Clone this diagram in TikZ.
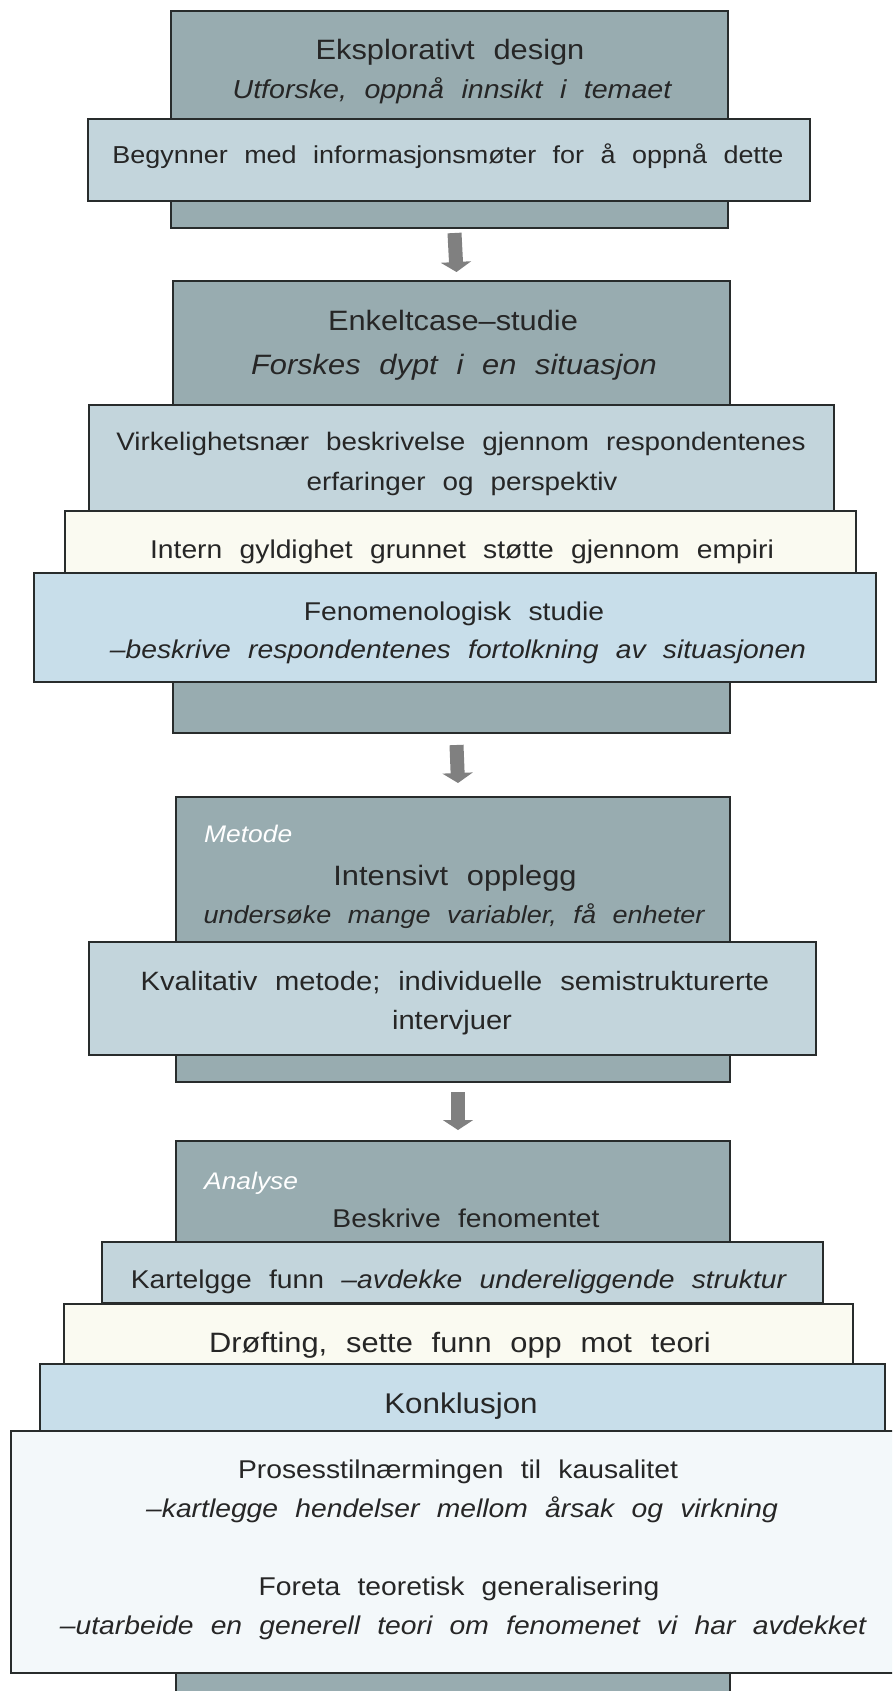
\documentclass[tikz,border=0pt]{standalone}
\usepackage{fontspec}
\setmainfont{Liberation Sans}[WordSpace=2.2,FakeStretch=1.1]
\usetikzlibrary{arrows.meta}

\definecolor{boxdark}{RGB}{152,172,176}
\definecolor{boxlight}{RGB}{195,213,220}
\definecolor{boxcream}{RGB}{250,250,241}
\definecolor{boxblue}{RGB}{200,222,234}
\definecolor{boxpale}{RGB}{243,248,250}
\definecolor{boxline}{RGB}{40,44,44}
\definecolor{textgray}{RGB}{38,38,38}
\definecolor{arrowgray}{RGB}{128,128,128}

\newcommand{\titlesize}{\fontsize{28}{34}\selectfont}
\newcommand{\subsize}{\fontsize{26}{31}\selectfont}
\newcommand{\bodysize}{\fontsize{25.7}{31}\selectfont}
\newcommand{\labelsize}{\fontsize{24}{29}\selectfont}

\begin{document}
\begin{tikzpicture}[x=1pt,y=-1pt,
    panel/.style={draw=boxline,line width=1.8pt,inner sep=0pt,outer sep=0pt,anchor=north west},
    darkpanel/.style={panel,fill=boxdark},
    lightpanel/.style={panel,fill=boxlight},
    creampanel/.style={panel,fill=boxcream},
    bluepanel/.style={panel,fill=boxblue},
    palepanel/.style={panel,fill=boxpale},
    blockarrow/.style={draw=arrowgray,line width=14pt,-{Triangle[width=30pt,length=10pt]}},
    txt/.style={text=textgray,inner sep=0pt,anchor=base},
    steplabel/.style={text=white,inner sep=0pt,anchor=base west,font=\labelsize\itshape}]
    \useasboundingbox (0,0) rectangle (892,1691);
    \fill[white] (0,0) rectangle (892,1691);
    \clip (0,0) rectangle (892,1691);

    % design
    \node[darkpanel,minimum width=557pt,minimum height=217pt] (design) at (171,11) {};
    \node[lightpanel,minimum width=722pt,minimum height=82pt] (meetings) at (88,119) {};
    \node[txt,font=\titlesize] (designtitle) at (450,60) {Eksplorativt design};
    \node[txt,font=\subsize\itshape] (designsub) at (452,99) {Utforske, oppnå innsikt i temaet};
    \node[txt,font=\fontsize{24.5}{30}\selectfont] (meetingstext) at (448,164) {Begynner med informasjonsmøter for å oppnå dette};

    % case study
    \node[darkpanel,minimum width=557pt,minimum height=452pt] (case) at (173,281) {};
    \node[lightpanel,minimum width=745pt,minimum height=106pt] (reality) at (89,405) {};
    \node[creampanel,minimum width=791pt,minimum height=62pt] (validity) at (65,511) {};
    \node[bluepanel,minimum width=842pt,minimum height=109pt] (phenom) at (34,573) {};
    \node[txt,font=\titlesize] (casetitle) at (453,330) {Enkeltcase–studie};
    \node[txt,font=\titlesize\itshape] (casesub) at (454,374) {Forskes dypt i en situasjon};
    \node[txt,font=\fontsize{25.3}{31}\selectfont] (realityone) at (461,450) {Virkelighetsnær beskrivelse gjennom respondentenes};
    \node[txt,font=\fontsize{25.3}{31}\selectfont] (realitytwo) at (462,490) {erfaringer og perspektiv};
    \node[txt,font=\bodysize] (validitytext) at (462,558) {Intern gyldighet grunnet støtte gjennom empiri};
    \node[txt,font=\bodysize] (phenomone) at (454,620) {Fenomenologisk studie};
    \node[txt,font=\bodysize\itshape] (phenomtwo) at (458,658) {–beskrive respondentenes fortolkning av situasjonen};

    % method
    \node[darkpanel,minimum width=554pt,minimum height=285pt] (method) at (176,797) {};
    \node[lightpanel,minimum width=727pt,minimum height=113pt] (interviews) at (89,942) {};
    \node[steplabel] (methodlabel) at (204,842) {Metode};
    \node[txt,font=\titlesize] (methodtitle) at (455,885) {Intensivt opplegg};
    \node[txt,font=\fontsize{24.6}{30}\selectfont\itshape] (methodsub) at (454,923) {undersøke mange variabler, få enheter};
    \node[txt,font=\fontsize{26.5}{32}\selectfont] (interviewsone) at (455,990) {Kvalitativ metode; individuelle semistrukturerte};
    \node[txt,font=\fontsize{26.5}{32}\selectfont] (interviewstwo) at (452,1029) {intervjuer};

    % analysis
    \node[darkpanel,minimum width=554pt,minimum height=570pt] (analysis) at (176,1141) {};
    \node[lightpanel,minimum width=721pt,minimum height=61pt] (mapping) at (102,1242) {};
    \node[creampanel,minimum width=789pt,minimum height=60pt] (discussion) at (64,1304) {};
    \node[bluepanel,minimum width=845pt,minimum height=67pt] (conclusion) at (40,1364) {};
    \node[palepanel,minimum width=900pt,minimum height=242pt] (theory) at (11,1431) {};
    \node[steplabel] (analysislabel) at (204,1189) {Analyse};
    \node[txt,font=\bodysize] (describe) at (466,1227) {Beskrive fenomentet};
    \node[txt,font=\bodysize] (mappingtext) at (459,1288) {Kartelgge funn \textit{–avdekke undereliggende struktur}};
    \node[txt,font=\titlesize] (discussiontext) at (460,1352) {Drøfting, sette funn opp mot teori};
    \node[txt,font=\fontsize{28.5}{34}\selectfont] (conclusiontext) at (461,1413) {Konklusjon};
    \node[txt,font=\bodysize] (processone) at (458,1478) {Prosesstilnærmingen til kausalitet};
    \node[txt,font=\bodysize\itshape] (processtwo) at (462,1517) {–kartlegge hendelser mellom årsak og virkning};
    \node[txt,font=\bodysize] (theoryone) at (459,1595) {Foreta teoretisk generalisering};
    \node[txt,font=\bodysize\itshape] (theorytwo) at (463,1634) {–utarbeide en generell teori om fenomenet vi har avdekket};

    % arrows
    \draw[blockarrow] ([xshift=5pt,yshift=-5pt]design.south) -- ([xshift=5pt,yshift=9pt]case.north);
    \draw[blockarrow] ([xshift=5pt,yshift=-12pt]case.south) -- ([xshift=5pt,yshift=14pt]method.north);
    \draw[blockarrow] ([xshift=5pt,yshift=-10pt]method.south) -- ([xshift=5pt,yshift=11pt]analysis.north);
\end{tikzpicture}
\end{document}
